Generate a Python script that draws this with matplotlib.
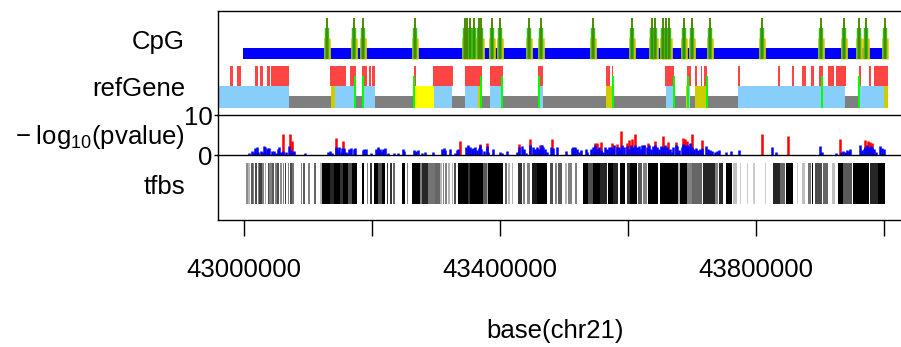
import numpy as np
import matplotlib
matplotlib.use('Agg')
from matplotlib import pyplot as plt

plt.rcParams['font.family'] = ['Liberation Sans', 'DejaVu Sans']
plt.rcParams['mathtext.fontset'] = 'custom'
plt.rcParams['mathtext.rm'] = 'Liberation Sans'
plt.rcParams['mathtext.it'] = 'Liberation Sans:italic'

# all positions in kb from chr21:43,000,000
ORIGIN = 43000000

# CpG track
cpg_span = (-2, 1006)
cpg_sites = [130, 172, 186, 267, 345, 349, 353.5, 359, 367.5, 370, 388, 400,
             446, 464, 545, 606, 637, 643, 655, 660, 664, 688, 700, 728, 809,
             902, 938, 962, 972, 1002]

# refGene track
gene_span = (-45, 1002)
gene_red = [(-22.4, -17.7), (-11.9, -5.6), (16, 21.9), (24.6, 28.8), (35.5, 40.2),
            (41.8, 69.9), (134.5, 158.7), (165.3, 174.4), (184.4, 191.9),
            (195.5, 198.2), (200.5, 204.4), (265.9, 268.5), (295.1, 325.9),
            (344.4, 371.3), (384.3, 404.1), (460.1, 467.2), (565, 572),
            (574.6, 577.1), (657.2, 672.1), (691.9, 697.9), (704.9, 708),
            (713.5, 715.8), (719, 723.2), (772.2, 775.3), (834.7, 837.9),
            (856.6, 859.7), (872.3, 878.5), (886.3, 890.2), (899.3, 905.6),
            (912.1, 922.3), (925.4, 940.6), (961.1, 964.5), (976.2, 979.4),
            (984.1, 1007.2)]
gene_blue = [(-45, 69.4), (141.9, 173.6), (184.1, 204.4), (296.7, 325.3),
             (345.2, 367.1), (384.4, 402.6), (460.4, 466.7), (659.1, 672.1),
             (693.5, 697.1), (771.7, 939.5), (961.9, 1001)]
gene_yellow = [(265.9, 296.7)]
gene_olive = [(135.1, 141.9), (366, 368.6), (565, 575), (690.4, 694),
              (704.9, 721.3), (1001, 1007)]
gene_green = [173.9, 185.3, 265.9, 369.7, 402.6, 460.4, 577.1, 672.1, 693.2,
              723.2, 903.1, 961.9]

# -log10(pvalue) track
pv_blue_pos = [7.8, 11.5, 14.6, 16.7, 19.4, 21.9, 25.6, 28.2, 30.8, 32.9, 35.5, 37.5,
               39.1, 43.8, 46.0, 49.1, 52.2, 54.7, 57.4, 61.0, 64.7, 69.9, 73.0, 75.7,
               78.2, 94.9, 130.4, 133.5, 136.7, 142.9, 145.0, 148.1, 151.2, 153.3,
               155.5, 159.0, 161.7, 164.2, 166.9, 172.0, 173.1, 185.2, 187.7, 189.9,
               198.2, 206.4, 208.6, 210.7, 212.7, 214.9, 217.4, 220.0, 225.2, 233.7,
               239.9, 247.7, 250.2, 265.9, 269.0, 272.1, 278.4, 282.1, 295.6, 308.7,
               311.9, 314.4, 321.7, 329.6, 332.2, 334.8, 346.8, 350.4, 353.0, 356.1,
               358.2, 361.4, 363.4, 366.6, 368.7, 370.7, 374.9, 379.1, 381.7, 388.5,
               399.9, 403.1, 410.4, 426.0, 429.1, 434.3, 437.5, 440.6, 446.9, 451.0,
               454.7, 457.3, 460.4, 463.5, 465.6, 467.7, 470.8, 472.9, 479.2, 482.3,
               488.6, 503.2, 512.5, 514.6, 517.2, 519.8, 524.0, 527.1, 534.4, 536.5,
               541.7, 545.9, 549.0, 552.2, 555.3, 558.4, 561.5, 564.7, 567.8, 569.9,
               573.0, 576.1, 578.2, 582.4, 585.5, 587.6, 590.7, 593.9, 598.0, 601.2,
               604.3, 607.4, 610.5, 613.7, 616.8, 619.9, 622.0, 625.1, 629.3, 632.4,
               635.6, 638.7, 641.8, 644.9, 648.1, 651.2, 654.3, 657.5, 660.6, 662.2,
               665.3, 668.4, 671.0, 674.7, 677.3, 679.9, 684.1, 686.7, 689.3, 691.9,
               694.5, 697.6, 700.7, 703.9, 706.0, 709.1, 712.2, 715.3, 721.6, 724.7,
               727.9, 731.0, 736.2, 739.3, 742.5, 752.9, 761.2, 773.7, 824.8, 831.6,
               900.9, 904.1, 924.9, 933.2, 936.4, 939.5, 942.6, 945.8, 947.8, 962.4,
               965.6, 968.7, 970.8, 973.9, 977.0, 980.2, 982.2, 985.4, 988.5, 994.2,
               996.8, 999.9]
pv_blue_val = [0.66, 1.07, 0.74, 1.9, 2.15, 0.83, 1.16, 0.9, 2.3, 2.0, 1.5, 1.8,
               1.7, 1.1, 1.1, 0.66, 1.65, 2.15, 0.9, 1.16, 0.83, 2.3, 1.3, 0.9,
               1.16, 0.66, 0.74, 1.16, 0.5, 2.15, 1.5, 2.0, 0.9, 1.9,
               1.7, 0.9, 0.66, 1.5, 1.9, 1.5, 1.7, 1.3, 1.5, 1.6,
               0.66, 1.5, 2.15, 1.3, 1.5, 1.0, 1.5, 1.9, 0.66, 0.66,
               0.66, 1.65, 1.16, 1.24, 1.0, 1.24, 0.66, 0.9, 0.74, 1.65,
               1.8, 1.32, 1.49, 0.66, 1.32, 1.49, 2.15, 2.48, 1.98, 1.49,
               1.74, 1.98, 1.32, 1.74, 2.64, 1.49, 1.16, 2.31, 0.91, 1.49,
               0.91, 0.66, 1.16, 0.91, 1.98, 2.31, 1.49, 0.5, 2.64, 1.98,
               1.49, 1.98, 1.49, 2.56, 2.64, 2.15, 1.49, 0.91, 2.15, 1.74,
               1.98, 1.16, 1.9, 1.98, 1.98, 1.49, 0.91, 1.32, 1.49, 0.91,
               1.49, 1.98, 2.64, 1.49, 2.15, 1.32, 0.91, 2.15, 1.49, 1.98,
               2.15, 1.49, 2.64, 1.98, 2.15, 1.49, 2.48, 1.98, 2.31, 1.49,
               2.64, 1.98, 2.48, 1.98, 2.31, 1.49, 2.64, 2.64, 1.98, 2.64,
               1.49, 2.31, 2.64, 1.98, 1.49, 2.31, 1.98, 2.64, 1.98, 1.32,
               1.49, 0.91, 1.98, 2.64, 2.31, 1.32, 2.15, 2.81, 2.48, 2.64,
               2.31, 3.14, 1.98, 1.49, 1.74, 1.32, 1.49, 1.74, 2.31, 1.49,
               1.32, 1.16, 0.91, 1.16, 1.32, 0.91, 1.16, 1.32, 1.98, 0.91,
               2.31, 0.91, 0.5, 0.91, 1.16, 0.91, 1.32, 1.16, 1.49, 2.64,
               1.32, 1.49, 1.98, 2.64, 2.15, 2.31, 1.98, 1.49, 0.91, 2.31,
               1.74, 1.49]
pv_red_pos = [60.5, 71.0, 74.6, 143.9, 154.8, 337.4, 368.7, 379.1, 429.1, 446.9,
              462.5, 481.3, 548.5, 551.1, 558.4, 574.6, 582.4, 589.7, 598.0, 602.2,
              606.4, 610.5, 625.1, 631.9, 642.3, 654.3, 662.2, 674.7, 686.7, 689.3,
              692.4, 700.7, 715.3, 809.2, 849.8, 931.7, 970.8, 976.0, 978.1, 981.2]
pv_red_val = [5.3, 5.3, 3.6, 4.2, 3.6, 3.6, 2.7, 3.0, 2.7, 4.0,
              2.6, 4.0, 3.0, 3.1, 3.3, 3.1, 2.7, 6.0, 3.0, 3.8,
              4.0, 5.2, 2.6, 3.1, 3.6, 4.8, 3.3, 3.4, 4.3, 4.0,
              3.6, 5.3, 3.8, 5.3, 4.9, 4.1, 3.8, 3.6, 3.3, 3.0]

# tfbs track: (start, end, darkness)
tfbs_start = [2.7, 6.3, 10.5, 13.6, 16.7, 20.9, 23.5, 27.7, 32.4, 36.6, 39.1, 43.8,
              48.0, 51.6, 55.8, 60.0, 63.6, 67.9, 71.9, 75.1, 88.7, 92.3, 100.1, 109.0,
              118.4, 122.0, 134.0, 140.7, 149.7, 154.8, 162.7, 168.9, 183.6, 191.4,
              196.6, 203.3, 209.5, 214.9, 222.7, 227.9, 233.1, 246.2, 254.0, 261.8,
              274.8, 277.4, 287.7, 298.2, 306.1, 310.3, 313.9, 319.1, 324.4, 328.0,
              334.7, 350.3, 353.0, 373.8, 379.1, 381.6, 407.7, 412.9, 418.2, 428.5,
              436.4, 441.7, 449.5, 457.3, 478.1, 485.9, 491.1, 501.6, 506.7, 517.2,
              530.2, 538.1, 545.9, 556.3, 569.4, 577.1, 587.6, 598.0, 603.2, 616.2,
              624.0, 631.8, 650.1, 678.7, 681.4, 691.9, 699.7, 717.8, 736.2, 742.4,
              752.9, 764.8, 774.5, 785.4, 795.6, 813.6, 827.3, 837.8, 846.7, 863.6,
              871.8, 881.1, 887.4, 892.6, 905.6, 918.7, 929.0, 936.8, 952.5, 966.5,
              978.6, 991.6]
tfbs_end = [5.8, 8.4, 13.1, 15.6, 19.4, 23.0, 27.2, 31.3, 34.4, 39.1, 42.8, 46.9,
            51.1, 54.3, 58.5, 61.6, 65.2, 69.9, 74.1, 78.2, 90.7, 94.9, 102.7, 111.6,
            121.0, 134.0, 140.7, 149.7, 154.8, 162.7, 168.0, 175.8, 187.7, 193.9,
            199.2, 209.5, 214.9, 220.0, 225.2, 230.5, 235.7, 251.3, 256.5, 274.8,
            277.4, 287.7, 298.2, 306.1, 308.7, 312.3, 316.5, 321.7, 326.9, 331.1,
            350.3, 353.0, 373.8, 379.1, 381.6, 405.1, 410.4, 415.5, 420.7, 433.8,
            439.0, 446.8, 457.3, 473.0, 483.3, 488.6, 496.4, 504.2, 512.1, 519.9,
            538.1, 545.9, 556.3, 566.8, 577.1, 584.9, 595.4, 603.2, 613.7, 621.5,
            629.3, 647.5, 678.7, 681.4, 691.9, 699.7, 715.3, 736.2, 740.9, 749.1,
            762.3, 770.1, 776.8, 787.8, 797.9, 815.9, 837.8, 845.6, 858.6, 866.0,
            876.9, 886.3, 889.9, 903.1, 913.4, 923.8, 936.8, 950.0, 965.6, 977.0,
            991.6, 1002.0]
tfbs_dark = [0.45, 0.3, 0.65, 0.5, 0.7, 0.5, 0.75, 0.5, 0.35, 0.7, 0.5, 0.65,
             0.5, 0.7, 0.45, 0.5, 0.75, 0.5, 0.7, 0.55, 0.5, 0.65, 0.5, 0.6,
             0.3, 1, 0.85, 1, 0.8, 1, 0.7, 1, 1, 0.5,
             0.8, 1, 0.7, 1, 0.8, 0.8, 0.6, 1, 0.5, 1,
             0.5, 0.85, 0.55, 0.6, 0.3, 0.5, 0.5, 0.3, 0.3, 0.7,
             1, 0.8, 1, 0.65, 0.35, 1, 0.6, 0.3, 0.3, 0.8,
             0.5, 0.5, 0.9, 1, 0.7, 0.5, 0.65, 0.3, 0.5, 0.5,
             1, 0.7, 1, 0.85, 1, 0.85, 1, 0.8, 1, 0.65,
             0.5, 1, 1, 0.3, 1, 0.5, 0.6, 0.85, 0.5, 0.85,
             1, 0.25, 0.2, 0.2, 0.2, 0.2, 0.85, 0.6, 1, 0.2,
             0.25, 0.55, 1, 0.7, 0.6, 0.25, 1, 0.65, 1, 1,
             0.85, 1]

track_names = ['CpG', 'refGene', r'$-\;\mathrm{log}_{10}\mathrm{(pvalue)}$', 'tfbs']
xticks = [43000000, 43200000, 43400000, 43600000, 43800000, 44000000]
xtick_labels = ['43000000', '', '43400000', '', '43800000', '']


def bp(kb):
    return ORIGIN + np.asarray(kb, dtype=float) * 1000


def ranges(pairs):
    return [(bp(s), (e - s) * 1000) for s, e in pairs]


fig = plt.figure(figsize=(9.01, 3.47), dpi=100)
left = 218 / 901
width = 1 - left
ax_top = fig.add_axes([left, 0.6686, width, 0.2997])
ax_p = fig.add_axes([left, 0.5524, width, 0.1161])
ax_t = fig.add_axes([left, 0.3660, width, 0.1865])

xmin, xmax = bp(-41.1), bp(1027)
for ax in (ax_top, ax_p, ax_t):
    ax.set_xlim(xmin, xmax)
    ax.patch.set_visible(False)
    ax.spines['right'].set_visible(False)
    for s in ax.spines.values():
        s.set_linewidth(1.0)

# --- CpG + refGene
ax_top.set_ylim(0, 1)
ax_top.spines['bottom'].set_visible(False)
ax_top.set_xticks([])
ax_top.set_yticks([])

ax_top.broken_barh(ranges([cpg_span]), (0.534, 0.113), facecolors='#0000FF')
cx = bp(cpg_sites)
ax_top.vlines(cx, 0.534, 0.737, color='#F2C400', lw=4.8)
ax_top.vlines(cx, 0.534, 0.834, color='#2CC21C', lw=3.2)
ax_top.vlines(cx, 0.534, 0.930, color='#4A8A00', lw=1.4)

ax_top.broken_barh(ranges([gene_span]), (0.0625, 0.1155), facecolors='#7F7F7F')
ax_top.broken_barh(ranges(gene_red), (0.279, 0.192), facecolors='#FF4444')
ax_top.broken_barh(ranges(gene_blue), (0.0625, 0.2165), facecolors='#87CEFA')
ax_top.broken_barh(ranges(gene_yellow), (0.0625, 0.2165), facecolors='#FFFF00')
ax_top.broken_barh(ranges(gene_olive), (0.0625, 0.2165), facecolors='#CDCD00')
ax_top.vlines(bp(gene_green), 0.0625, 0.375, color='#00FF00', lw=1.4)

# --- p-values
ax_p.set_ylim(0, 10)
ax_p.vlines(bp(pv_red_pos), 0, pv_red_val, color='#FF0000', lw=1.8)
ax_p.vlines(bp(pv_blue_pos), 0, pv_blue_val, color='#0000FF', lw=1.8)
ax_p.set_xticks([])
ax_p.set_yticks([0, 10])
ax_p.tick_params(axis='y', length=3, width=1, pad=1, labelsize=18.5)

# --- tfbs
ax_t.set_ylim(0, 1)
ax_t.spines['top'].set_visible(False)
shades = [(1 - d, 1 - d, 1 - d) for d in tfbs_dark]
ax_t.broken_barh(ranges(zip(tfbs_start, tfbs_end)), (0.243, 0.643),
                 facecolors=shades, edgecolors='none')
ax_t.set_yticks([])
ax_t.set_xticks(xticks)
ax_t.set_xticklabels(xtick_labels)
ax_t.tick_params(axis='x', length=11.5, width=1, pad=16, labelsize=18.5)

# track labels
label_y = [41.7, 89, 137, 187]
for name, y in zip(track_names, label_y):
    fig.text(185 / 901, 1 - y / 347, name, ha='right', va='center', fontsize=18.5)

fig.text(555 / 901, 1 - 331 / 347, 'base(chr21)', ha='center', va='center', fontsize=18.5)

fig.savefig('out.png', dpi=100)
